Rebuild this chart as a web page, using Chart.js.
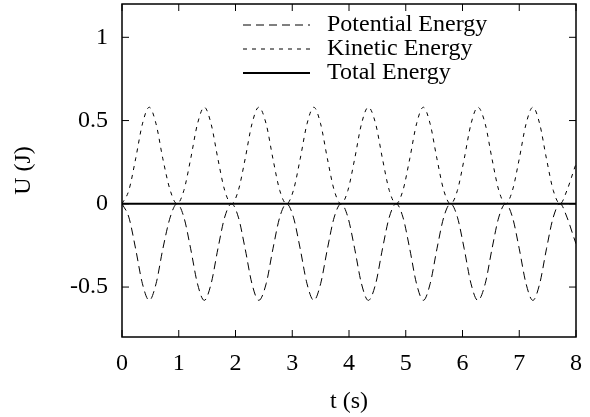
<!DOCTYPE html>
<html>
<head>
<meta charset="utf-8">
<script src="https://cdn.jsdelivr.net/npm/chart.js@4.4.0/dist/chart.umd.min.js"></script>
<style>
    html, body { margin: 0; padding: 0; background: #fff; }
    #wrap { width: 590px; height: 417px; }
</style>
</head>
<body>
<div id="wrap"><canvas id="energyChart" width="590" height="417"></canvas></div>
<script>
// Values (t in s, energies in J)
const times = [
    0.00, 0.12, 0.24, 0.36, 0.48, 0.60, 0.72, 0.85,
    0.97, 1.09, 1.21, 1.33, 1.45, 1.57, 1.69, 1.81,
    1.93, 2.05, 2.17, 2.29, 2.41, 2.54, 2.66, 2.78,
    2.90, 3.02, 3.14, 3.26, 3.38, 3.50, 3.62, 3.74,
    3.86, 3.98, 4.10, 4.22, 4.34, 4.47, 4.59, 4.71,
    4.83, 4.95, 5.07, 5.19, 5.31, 5.43, 5.55, 5.67,
    5.79, 5.91, 6.03, 6.15, 6.27, 6.40, 6.52, 6.64,
    6.76, 6.88, 7.00, 7.12, 7.24, 7.36, 7.48, 7.60,
    7.72, 7.84, 7.96, 8.00
];
const kinetic = [
    0, 0.08, 0.27, 0.48, 0.58, 0.48, 0.27, 0.08,
    0, 0.08, 0.27, 0.48, 0.58, 0.48, 0.27, 0.08,
    0, 0.08, 0.27, 0.48, 0.58, 0.48, 0.27, 0.08,
    0, 0.08, 0.27, 0.48, 0.58, 0.48, 0.27, 0.08,
    0, 0.08, 0.27, 0.48, 0.58, 0.48, 0.27, 0.08,
    0, 0.08, 0.27, 0.48, 0.58, 0.48, 0.27, 0.08,
    0, 0.08, 0.27, 0.48, 0.58, 0.48, 0.27, 0.08,
    0, 0.08, 0.27, 0.48, 0.58, 0.48, 0.27, 0.08,
    0, 0.08, 0.20, 0.24
];
const potential = [
    0, -0.08, -0.27, -0.48, -0.58, -0.48, -0.27, -0.08,
    0, -0.08, -0.27, -0.48, -0.58, -0.48, -0.27, -0.08,
    0, -0.08, -0.27, -0.48, -0.58, -0.48, -0.27, -0.08,
    0, -0.08, -0.27, -0.48, -0.58, -0.48, -0.27, -0.08,
    0, -0.08, -0.27, -0.48, -0.58, -0.48, -0.27, -0.08,
    0, -0.08, -0.27, -0.48, -0.58, -0.48, -0.27, -0.08,
    0, -0.08, -0.27, -0.48, -0.58, -0.48, -0.27, -0.08,
    0, -0.08, -0.27, -0.48, -0.58, -0.48, -0.27, -0.08,
    0, -0.08, -0.20, -0.24
];
const totalTimes = [0, 8];
const total = [0, 0];

const xTicks = [0, 1, 2, 3, 4, 5, 6, 7, 8];
const yTicks = [-0.5, 0, 0.5, 1];
const seriesNames = ['Potential Energy', 'Kinetic Energy', 'Total Energy'];

const FONT = '"Liberation Serif", "Times New Roman", serif';
const toPoints = (xs, ys) => xs.map((x, i) => ({ x, y: ys[i] }));

// gnuplot-like frame, inward ticks on all four sides, and legend inside top right
const framePlugin = {
    id: 'frame',
    afterDraw(chart) {
        const { ctx, chartArea: a, scales } = chart;
        ctx.save();
        ctx.strokeStyle = '#000';
        ctx.lineWidth = 1.5;
        ctx.strokeRect(a.left, a.top, a.right - a.left, a.bottom - a.top);

        const tl = 7;
        ctx.lineWidth = 1;
        ctx.beginPath();
        xTicks.forEach(v => {
            const px = scales.x.getPixelForValue(v);
            ctx.moveTo(px, a.bottom); ctx.lineTo(px, a.bottom - tl);
            ctx.moveTo(px, a.top); ctx.lineTo(px, a.top + tl);
        });
        yTicks.forEach(v => {
            const py = scales.y.getPixelForValue(v);
            ctx.moveTo(a.left, py); ctx.lineTo(a.left + tl, py);
            ctx.moveTo(a.right, py); ctx.lineTo(a.right - tl, py);
        });
        ctx.stroke();

        // legend
        ctx.font = '24px ' + FONT;
        ctx.textBaseline = 'middle';
        ctx.fillStyle = '#000';
        chart.data.datasets.forEach((ds, i) => {
            const y = 25 + i * 24;
            ctx.beginPath();
            ctx.lineWidth = ds.borderWidth;
            ctx.setLineDash(ds.borderDash || []);
            ctx.moveTo(243, y);
            ctx.lineTo(310, y);
            ctx.stroke();
            ctx.setLineDash([]);
            ctx.fillText(ds.label, 327, y);
        });
        ctx.restore();
    }
};

new Chart(document.getElementById('energyChart'), {
    type: 'line',
    data: {
        datasets: [
            {
                label: seriesNames[0],
                data: toPoints(times, potential),
                borderColor: '#000',
                borderWidth: 1,
                borderDash: [8, 5],
                pointRadius: 0,
                cubicInterpolationMode: 'monotone'
            },
            {
                label: seriesNames[1],
                data: toPoints(times, kinetic),
                borderColor: '#000',
                borderWidth: 1,
                borderDash: [4, 5],
                pointRadius: 0,
                cubicInterpolationMode: 'monotone'
            },
            {
                label: seriesNames[2],
                data: toPoints(totalTimes, total),
                borderColor: '#000',
                borderWidth: 2,
                pointRadius: 0
            }
        ]
    },
    options: {
        responsive: false,
        animation: false,
        devicePixelRatio: 1,
        layout: { padding: { top: 4, right: 14, left: 0, bottom: 0 } },
        plugins: {
            legend: { display: false },
            tooltip: { enabled: false }
        },
        scales: {
            x: {
                type: 'linear',
                min: 0,
                max: 8,
                afterBuildTicks: s => { s.ticks = xTicks.map(v => ({ value: v })); },
                afterFit: s => { s.height = 80; s.paddingLeft = 0; s.paddingRight = 0; },
                grid: { display: false, drawTicks: false },
                border: { display: false },
                ticks: { color: '#000', font: { family: FONT, size: 24 }, padding: 12, maxRotation: 0, callback: v => String(v) },
                title: { display: true, text: 't (s)', color: '#000', font: { family: FONT, size: 24 }, padding: { top: 0, bottom: 1 } }
            },
            y: {
                min: -0.8,
                max: 1.2,
                afterBuildTicks: s => { s.ticks = yTicks.map(v => ({ value: v })); },
                afterFit: s => { s.width = 122; s.paddingTop = 0; s.paddingBottom = 0; },
                grid: { display: false, drawTicks: false },
                border: { display: false },
                ticks: { color: '#000', font: { family: FONT, size: 24 }, padding: 14, callback: v => String(v) },
                title: { display: true, text: 'U (J)', color: '#000', font: { family: FONT, size: 24 }, padding: { top: 9, bottom: 0 } }
            }
        }
    },
    plugins: [framePlugin]
});
</script>
</body>
</html>
